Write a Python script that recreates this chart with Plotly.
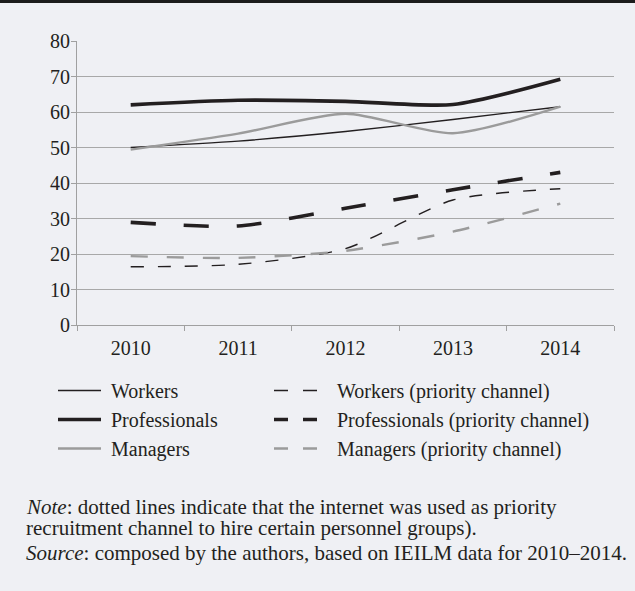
import plotly.graph_objects as go

years = ["2010", "2011", "2012", "2013", "2014"]
workers = [50.0, 51.8, 54.5, 57.9, 61.5]
professionals = [62.0, 63.3, 63.0, 62.1, 69.2]
managers = [49.4, 53.9, 59.5, 54.0, 61.5]
workers_pc = [16.4, 17.1, 21.5, 35.2, 38.4]
professionals_pc = [28.9, 27.9, 32.9, 38.1, 43.0]
managers_pc = [19.4, 18.9, 20.9, 26.3, 34.2]

names = ["Workers", "Professionals", "Managers",
         "Workers (priority channel)", "Professionals (priority channel)",
         "Managers (priority channel)"]
series = [workers, professionals, managers, workers_pc, professionals_pc, managers_pc]

BLACK = "#231f20"
GRAY = "#9b9b9b"
styles = [
    dict(color=BLACK, width=1.4, dash="solid"),
    dict(color=BLACK, width=3.6, dash="solid"),
    dict(color=GRAY, width=2.4, dash="solid"),
    dict(color=BLACK, width=1.4, dash="13px,14px"),
    dict(color=BLACK, width=3.6, dash="25px,28px"),
    dict(color=GRAY, width=2.4, dash="17px,19px"),
]
legend_dash = ["solid", "solid", "solid", "14px,15px", "14px,15px", "14px,15px"]
legend_ids = ["legend", "legend", "legend", "legend2", "legend2", "legend2"]
name_pad = ["\u00a0", "\u00a0", "\u00a0", "\u00a0\u00a0\u00a0", "\u00a0\u00a0\u00a0", "\u00a0\u00a0\u00a0"]

FONT = "Liberation Serif"
# plot area in pixels (used to place legend / notes)
L, R, T, B = 77, 614, 41, 325
PW, PH = R - L, B - T


def px_x(p):
    return (p - L) / PW


def px_y(p):
    return (B - p) / PH


fig = go.Figure()
for name, vals, st in zip(names, series, styles):
    fig.add_trace(go.Scatter(
        x=years, y=vals, mode="lines", name=name, showlegend=False,
        line=dict(color=st["color"], width=st["width"], dash=st["dash"],
                  shape="spline", smoothing=0.7),
        hoverinfo="skip"))
# legend entries (same styles, legend-sized dashes)
for name, st, ld, lg, pad in zip(names, styles, legend_dash, legend_ids, name_pad):
    fig.add_trace(go.Scatter(
        x=[None], y=[None], mode="lines", name=pad + name, legend=lg,
        line=dict(color=st["color"], width=st["width"], dash=ld)))

leg_common = dict(orientation="v", xref="paper", yref="paper",
                  xanchor="left", yanchor="top", itemwidth=43,
                  bgcolor="rgba(0,0,0,0)", font=dict(family=FONT, size=20, color=BLACK),
                  tracegroupgap=0)

fig.update_layout(
    width=635, height=591,
    margin=dict(l=L, r=635 - R, t=T, b=591 - B, autoexpand=False),
    paper_bgcolor="#eff0f4", plot_bgcolor="#eff0f4",
    font=dict(family=FONT, size=20, color=BLACK),
    showlegend=True,
    legend=dict(x=px_x(53), y=px_y(371), **leg_common),
    legend2=dict(x=px_x(269), y=px_y(371), **leg_common),
    xaxis=dict(type="category", range=[-0.5, 4.5], tickson="boundaries",
               ticks="outside", ticklen=5, ticklabelstandoff=5,
               tickcolor="#a0a0a0", showline=True, linecolor="#a0a0a0", linewidth=1,
               showgrid=False, zeroline=False, tickfont=dict(family=FONT, size=20, color=BLACK)),
    yaxis=dict(range=[0, 80], dtick=10, ticks="outside", ticklen=5, tickcolor="#a0a0a0",
               ticklabelstandoff=-3,
               showline=True, linecolor="#a0a0a0", linewidth=1,
               showgrid=True, gridcolor="#a8a8a8", gridwidth=1, zeroline=False,
               tickfont=dict(family=FONT, size=20, color=BLACK)),
    shapes=[dict(type="rect", xref="paper", yref="paper", x0=-0.2, x1=1.2,
                 ysizemode="pixel", yanchor=1, y0=41, y1=38,
                 fillcolor="#1c1c1c", line=dict(width=0))],
    annotations=[
        dict(xref="paper", yref="paper", x=px_x(24), y=px_y(507),
             xanchor="left", yanchor="middle", showarrow=False, align="left",
             text="<i>Note</i>: dotted lines indicate that the internet was used as priority",
             font=dict(family=FONT, size=21, color=BLACK)),
        dict(xref="paper", yref="paper", x=px_x(24), y=px_y(528),
             xanchor="left", yanchor="middle", showarrow=False, align="left",
             text="recruitment channel to hire certain personnel groups).",
             font=dict(family=FONT, size=21, color=BLACK)),
        dict(xref="paper", yref="paper", x=px_x(24), y=px_y(553),
             xanchor="left", yanchor="middle", showarrow=False, align="left",
             text="<i>Source</i>: composed by the authors, based on IEILM data for 2010\u20132014.",
             font=dict(family=FONT, size=21, color=BLACK)),
    ],
)
fig.write_html("out.html", config={"displayModeBar": False},
               post_script="document.body.style.margin='0';document.body.style.background='#eff0f4';")
